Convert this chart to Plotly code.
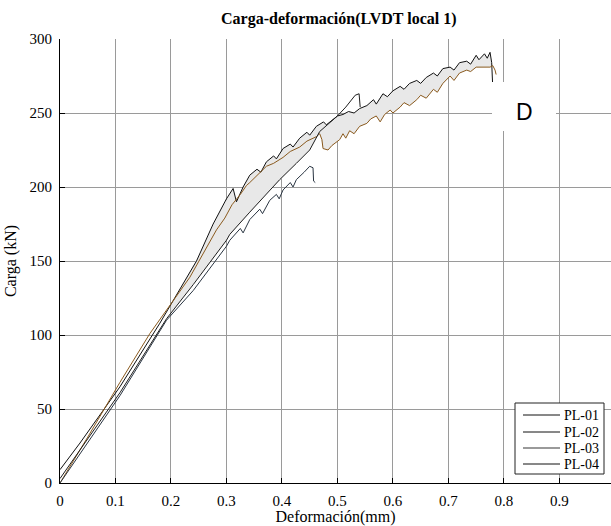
import numpy as np
import plotly.graph_objects as go

# ---- data ----
pl01_x = [0, 0.036, 0.108, 0.18, 0.246, 0.276, 0.30, 0.312, 0.318, 0.33, 0.342, 0.355, 0.362, 0.372,
          0.385, 0.39, 0.402, 0.415, 0.42, 0.432, 0.445, 0.45, 0.462, 0.475, 0.48, 0.492, 0.50, 0.51,
          0.52, 0.53, 0.54, 0.553, 0.565, 0.57, 0.582, 0.59, 0.60, 0.613, 0.62, 0.63, 0.643, 0.65,
          0.66, 0.673, 0.68, 0.69, 0.703, 0.71, 0.72, 0.733, 0.74, 0.75, 0.755, 0.765, 0.77, 0.775,
          0.778, 0.779, 0.78]
pl01_y = [9, 27, 65, 108, 150, 175, 192, 199, 190, 200, 208, 212, 210, 217,
          221, 219, 226, 229, 227, 233, 237, 235, 241, 244, 242, 246, 248, 249,
          251, 250, 253, 255, 259, 256, 263, 261, 265, 268, 266, 270, 272, 270,
          274, 277, 275, 280, 281, 279, 284, 285, 283, 289, 286, 290, 287, 291,
          284, 275, 267]

pl02_x = [0, 0.05, 0.108, 0.162, 0.234, 0.282, 0.297, 0.31, 0.325, 0.336, 0.342, 0.355, 0.372,
          0.385, 0.402, 0.415, 0.432, 0.445, 0.462, 0.468, 0.472, 0.474, 0.483, 0.49, 0.504,
          0.51, 0.515, 0.522, 0.53, 0.54, 0.553, 0.56, 0.57, 0.577, 0.585, 0.595, 0.60, 0.613,
          0.62, 0.63, 0.643, 0.65, 0.66, 0.673, 0.68, 0.69, 0.703, 0.71, 0.72, 0.733, 0.74,
          0.75, 0.763, 0.775, 0.78, 0.784, 0.786]
pl02_y = [0, 31, 68, 101, 139, 171, 179, 188, 195, 201, 203, 208, 214,
          216, 220, 224, 227, 231, 234, 236, 232, 226, 225, 228, 232,
          236, 233, 238, 236, 241, 243, 246, 248, 244, 249, 252, 250, 254,
          257, 255, 259, 262, 260, 266, 264, 270, 275, 272, 277, 279, 278,
          281, 281, 281, 282, 279, 276]

pl03_x = [0, 0.108, 0.192, 0.24, 0.30, 0.306, 0.325, 0.33, 0.342, 0.36, 0.365, 0.378, 0.39,
          0.395, 0.402, 0.415, 0.42, 0.426, 0.44, 0.45, 0.456, 0.457, 0.46]
pl03_y = [0, 59, 110, 130, 160, 164, 172, 169, 178, 185, 182, 191, 195,
          192, 198, 203, 200, 205, 210, 214, 213, 204, 203]

pl04_x = [0, 0.108, 0.192, 0.24, 0.30, 0.306, 0.342, 0.366, 0.396, 0.426, 0.45, 0.468, 0.50,
          0.515, 0.532, 0.539, 0.541]
pl04_y = [3, 61, 111, 134, 164, 168, 183, 193, 205, 216, 225, 237.5, 248,
          254, 262, 263, 254]

series_names = ["PL-01", "PL-02", "PL-03", "PL-04"]
x_ticks = [0, 0.1, 0.2, 0.3, 0.4, 0.5, 0.6, 0.7, 0.8, 0.9]
x_tick_labels = ["0", "0.1", "0.2", "0.3", "0.4", "0.5", "0.6", "0.7", "0.8", "0.9"]
y_ticks = [0, 50, 100, 150, 200, 250, 300]

SERIF = "Liberation Serif, Times New Roman, serif"

fig = go.Figure()

# gray shaded band between curves (as seen in the reference)
gx = np.linspace(0.2, 0.78, 300)
def interp(xs, ys, g):
    xs = np.asarray(xs); ys = np.asarray(ys, dtype=float)
    out = np.interp(g, xs, ys)
    out[(g < xs[0]) | (g > xs[-1])] = np.nan
    return out
u1 = interp(pl01_x, pl01_y, gx)
u2 = interp(pl02_x, pl02_y, gx)
u4 = interp(pl04_x, pl04_y, gx)
upper = np.fmax(u1, u2)
lower = np.fmin(u2, u4)
band_x = np.concatenate([gx, gx[::-1]])
band_y = np.concatenate([upper, lower[::-1]])
fig.add_trace(go.Scatter(x=band_x, y=band_y, fill="toself", fillcolor="#e8e8e8",
                         line=dict(width=0), mode="lines", showlegend=False, hoverinfo="skip"))

curve_colors = ["#111111", "#8a5a1e", "#2a3542", "#1e1e1e"]
for xs, ys, c, n in zip([pl01_x, pl02_x, pl03_x, pl04_x], [pl01_y, pl02_y, pl03_y, pl04_y],
                        curve_colors, series_names):
    fig.add_trace(go.Scatter(x=xs, y=ys, mode="lines", name=n, line=dict(color=c, width=1),
                             showlegend=False))

W, H = 611, 526
L, R, T, B = 60, 0, 39, 43
pw, ph = W - L - R, H - T - B
def px(xp): return (xp - L) / pw
def py(yp): return (H - B - yp) / ph

# manual legend (box, line samples, labels)
legend_colors = ["#111111", "#111111", "#9a9a9a", "#111111"]
legend_widths = [1, 1, 2, 1]
legend_rows = [415, 432, 448, 464]
shapes = [dict(type="rect", xref="paper", yref="paper",
               x0=px(515), x1=px(604), y0=py(474), y1=py(403),
               fillcolor="white", line=dict(color="#222222", width=1), layer="above")]
annotations = []
for n, c, w, r in zip(series_names, legend_colors, legend_widths, legend_rows):
    shapes.append(dict(type="line", xref="paper", yref="paper",
                       x0=px(523), x1=px(560), y0=py(r), y1=py(r),
                       line=dict(color=c, width=w), layer="above"))
    annotations.append(dict(text=n, xref="paper", yref="paper", x=px(562), y=py(r),
                            xanchor="left", yanchor="middle", showarrow=False,
                            font=dict(family=SERIF, size=14, color="black")))

# white box with the "D" label
shapes.append(dict(type="rect", xref="paper", yref="paper",
                   x0=px(492), x1=px(556), y0=py(131), y1=py(82),
                   fillcolor="white", line=dict(width=0), layer="above"))
annotations += [
    dict(text="<b>Carga-deformación(LVDT local 1)</b>", xref="paper", yref="paper",
         x=px(339), y=py(19), xanchor="center", yanchor="middle", showarrow=False,
         font=dict(family=SERIF, size=16)),
    dict(text="D", xref="paper", yref="paper", x=px(524), y=py(112),
         xanchor="center", yanchor="middle", showarrow=False,
         font=dict(family="Liberation Sans, Arial, sans-serif", size=23, color="black")),
]

fig.update_layout(
    width=W, height=H,
    margin=dict(l=L, r=R, t=T, b=B, pad=0),
    plot_bgcolor="white", paper_bgcolor="white",
    font=dict(family=SERIF, size=15, color="black"),
    showlegend=False,
    xaxis=dict(range=[0, 0.993], tickvals=x_ticks, ticktext=x_tick_labels,
               showgrid=True, gridcolor="#9a9a9a", gridwidth=1,
               showline=True, linecolor="black", linewidth=1,
               ticks="inside", ticklen=5, tickcolor="black", zeroline=False,
               ticklabelstandoff=4,
               title=dict(text="Deformación(mm)", font=dict(family=SERIF, size=16), standoff=6)),
    yaxis=dict(range=[0, 300], tickvals=y_ticks,
               showgrid=True, gridcolor="#9a9a9a", gridwidth=1,
               showline=True, linecolor="black", linewidth=1,
               ticks="inside", ticklen=5, tickcolor="black", zeroline=False,
               ticklabelstandoff=4,
               title=dict(text="Carga (kN)", font=dict(family=SERIF, size=16), standoff=8)),
    shapes=shapes,
    annotations=annotations,
)

fig.write_html("out.html")
